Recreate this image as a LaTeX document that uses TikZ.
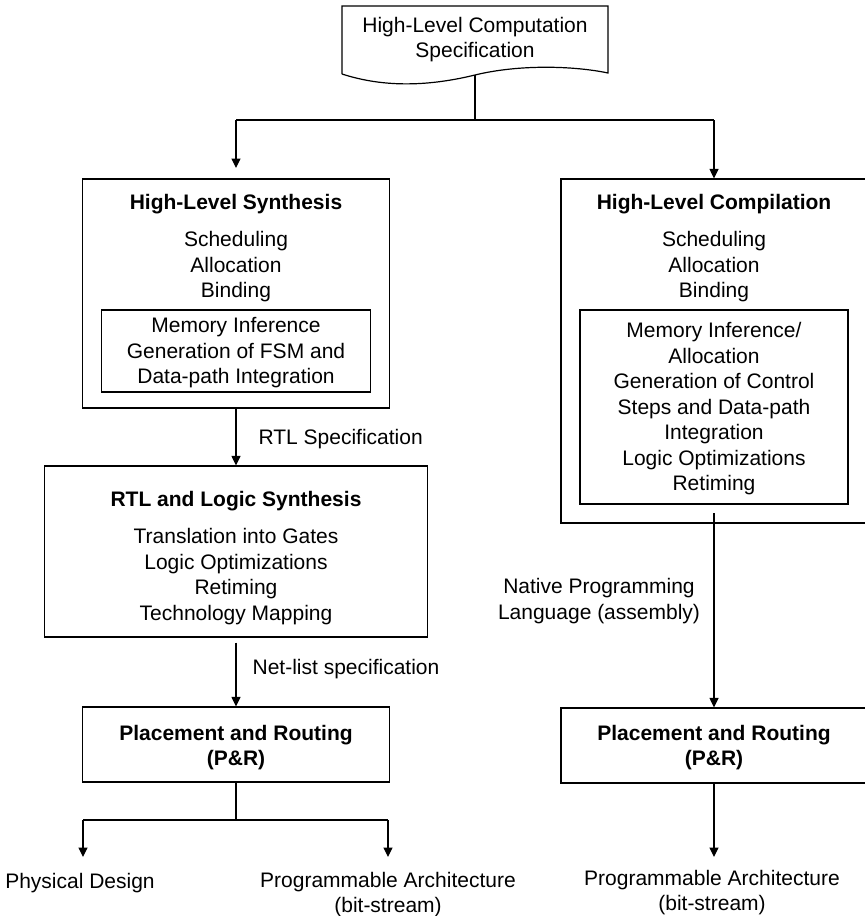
\documentclass[tikz,border=0pt]{standalone}
\usepackage{fontspec}
\setmainfont{Liberation Sans}
\usetikzlibrary{arrows.meta}
\begin{document}
\begin{tikzpicture}[
  x=1pt, y=-1pt, line width=1.2pt,
  frame/.style={draw, rectangle, inner sep=0pt},
  txt/.style={align=center, inner sep=0pt, font=\fontsize{21}{25.5}\selectfont},
  ttl/.style={align=center, inner sep=0pt, font=\fontsize{21}{25.5}\selectfont\bfseries},
  arr/.style={-{Triangle[length=9.5pt,width=9pt]}}
]
\useasboundingbox (0,0) rectangle (865,916);

% document-shaped specification block
\draw (342,74) -- (342,6) -- (608,6) -- (608,73)
  .. controls (575,66) and (520,64) .. (475,75)
  .. controls (430,86) and (385,88) .. (342,74);
\node[txt] (spec) at (475,40) {\strut High-Level Computation\\\strut Specification};
\coordinate (specout) at (475,75);

% left branch: synthesis flow
\node[frame, minimum width=307pt, minimum height=229pt] (hls) at (236,293.5) {};
\node[ttl] (hlst) at (236,204.4) {\strut High-Level Synthesis};
\node[txt] (hlsl) at (236,267) {\strut Scheduling\\\strut Allocation\\\strut Binding};
\node[frame, minimum width=269pt, minimum height=82pt] (hlsin) at (236,351) {};
\node[txt] (hlsinl) at (236,353) {\strut Memory Inference\\\strut Generation of FSM and\\\strut Data-path Integration};

\node[frame, minimum width=383pt, minimum height=171pt] (rtl) at (236,551.5) {};
\node[ttl] (rtlt) at (236,501) {\strut RTL and Logic Synthesis};
\node[txt] (rtll) at (236,577) {\strut Translation into Gates\\\strut Logic Optimizations\\\strut Retiming\\\strut Technology Mapping};

\node[frame, minimum width=307pt, minimum height=75pt] (prl) at (236,744.5) {};
\node[ttl] (prlt) at (236,748) {\strut Placement and Routing\\\strut (P\&R)};

\node[txt] (pd) at (80,883.4) {\strut Physical Design};
\node[txt] (pal) at (388,895) {\strut Programmable Architecture\\\strut (bit-stream)};

\node[txt, anchor=west] (rtlspec) at (258,439.4) {\strut RTL Specification};
\node[txt, anchor=west] (netspec) at (252,669.4) {\strut Net-list specification};

% right branch: compilation flow
\node[frame, minimum width=306pt, minimum height=344pt] (hlc) at (714,351) {};
\node[ttl] (hlct) at (714,204.4) {\strut High-Level Compilation};
\node[txt] (hlcl) at (714,267) {\strut Scheduling\\\strut Allocation\\\strut Binding};
\node[frame, minimum width=268pt, minimum height=194pt] (hlcin) at (714,407) {};
\node[txt] (hlcinl) at (714,409) {\strut Memory Inference/\\\strut Allocation\\\strut Generation of Control\\\strut Steps and Data-path\\\strut Integration\\\strut Logic Optimizations\\\strut Retiming};

\node[txt] (native) at (599,601.5) {\strut Native Programming\\\strut Language (assembly)};

\node[frame, minimum width=306pt, minimum height=75pt] (prr) at (714,745.5) {};
\node[ttl] (prrt) at (714,748) {\strut Placement and Routing\\\strut (P\&R)};

\node[txt] (par) at (712,893) {\strut Programmable Architecture\\\strut (bit-stream)};

% connectors
\coordinate (split) at (475,120);
\coordinate (jl) at (236,120);
\coordinate (jr) at (714,120);
\coordinate (hlstip) at (236,168);
\draw (specout) -- (split);
\draw (jl) -- (jr);
\draw[arr] (jl) -- (hlstip);
\draw[arr] (jr) -- (hlc.north);

\draw[arr] (hls.south) -- (rtl.north);
\draw[arr] ([yshift=-5pt]rtl.south) -- (prl.north);

\coordinate (fork) at (236,820);
\coordinate (fl) at (83,820);
\coordinate (fr) at (388,820);
\coordinate (fltip) at (83,857);
\coordinate (frtip) at (388,857);
\draw (prl.south) -- (fork);
\draw (fl) -- (fr);
\draw[arr] (fl) -- (fltip);
\draw[arr] (fr) -- (frtip);

\coordinate (hlcout) at (714,513);
\coordinate (prrtip) at (714,857);
\draw[arr] (hlcout) -- (prr.north);
\draw[arr] (prr.south) -- (prrtip);
\end{tikzpicture}
\end{document}
